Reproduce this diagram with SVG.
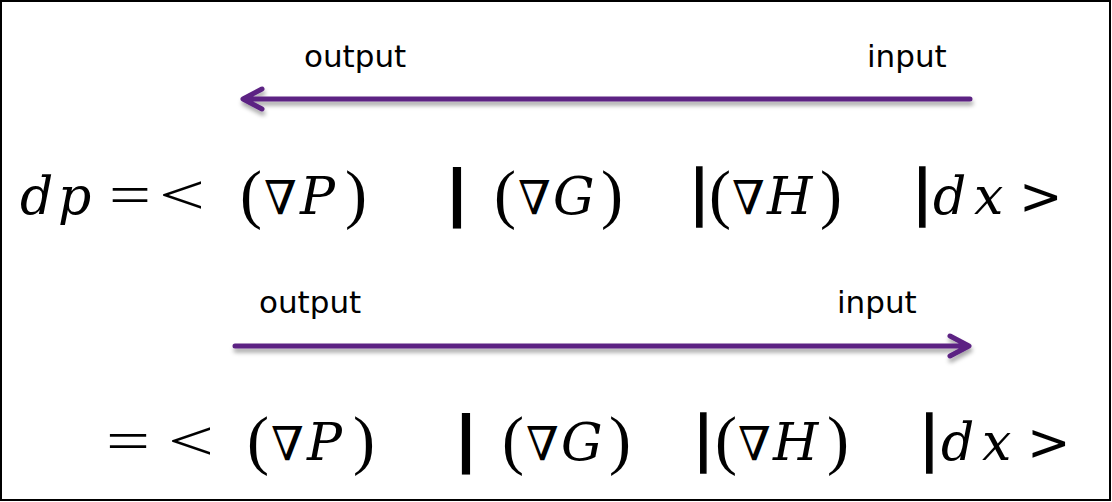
<svg xmlns="http://www.w3.org/2000/svg" width="1112" height="502" viewBox="0 0 1112 502">
  <defs>
    <filter id="shadow" x="-5%" y="-100%" width="110%" height="400%">
      <feDropShadow dx="1" dy="4" stdDeviation="2" flood-color="#000" flood-opacity="0.35"/>
    </filter>
  </defs>
  <style>
    .lbl { font-family: "DejaVu Sans", Verdana, sans-serif; font-size: 31px; fill: #000; }
    .it { font-family: "DejaVu Serif", "Liberation Serif", serif; font-style: italic; font-size: 52px; fill: #000; }
    .op { font-family: "Liberation Serif", "DejaVu Serif", serif; font-size: 57px; fill: #000; }
    .par { font-family: "Liberation Serif", "DejaVu Serif", serif; font-size: 66px; fill: #000; }
    .nab { font-family: "DejaVu Serif", serif; font-size: 47px; fill: #000; }
    .bar { font-family: "Liberation Sans", Arial, sans-serif; font-size: 64px; fill: #000; stroke: #000; stroke-width: 1.4px; }
    .bar.heavy { font-weight: bold; stroke: none; }
    .gt { font-family: "DejaVu Sans", sans-serif; font-size: 52px; fill: #000; }
    .arrow { fill: none; stroke: #5c2483; stroke-width: 5; stroke-linecap: round; stroke-linejoin: round; filter: url(#shadow); }
  </style>

  <!-- frame -->
  <rect x="1" y="1" width="1109" height="499" fill="#fff" stroke="#000" stroke-width="2"/>

  <!-- direction arrows -->
  <g id="connectors">
    <g id="arrow-top">
      <path class="arrow" d="M970 99 H244 M262 89 L243 99 L262 109"/>
    </g>
    <g id="arrow-bottom">
      <path class="arrow" d="M235 346 H968 M950 336 L969 346 L950 356"/>
    </g>
  </g>

  <!-- arrow labels -->
  <g id="labels-top">
    <text class="lbl" x="304" y="67">output</text>
    <text class="lbl" x="867" y="67">input</text>
  </g>
  <g id="labels-bottom">
    <text class="lbl" x="259" y="313">output</text>
    <text class="lbl" x="837" y="313">input</text>
  </g>

  <!-- first expression -->
  <g id="expr-1">
    <text class="it" x="20" y="214">d</text>
    <text class="it" x="58" y="214">p</text>
    <text class="op" x="109" y="214" textLength="42" lengthAdjust="spacingAndGlyphs">=</text>
    <text class="op" x="159" y="214" textLength="46" lengthAdjust="spacingAndGlyphs">&lt;</text>
    <text class="par" x="240" y="216">(</text>
    <text class="nab" x="264" y="214">∇</text>
    <text class="it" x="300" y="214">P</text>
    <text class="par" x="345" y="216">)</text>
    <text class="bar heavy" x="448" y="214">|</text>
    <text class="par" x="494" y="216">(</text>
    <text class="nab" x="518" y="214">∇</text>
    <text class="it" x="553" y="214">G</text>
    <text class="par" x="601" y="216">)</text>
    <text class="bar" x="691" y="214">|</text>
    <text class="par" x="709" y="216">(</text>
    <text class="nab" x="732" y="214">∇</text>
    <text class="it" x="767" y="214">H</text>
    <text class="par" x="820" y="216">)</text>
    <text class="bar" x="914" y="214">|</text>
    <text class="it" x="933" y="214">d</text>
    <text class="it" x="974" y="214">x</text>
    <text class="gt" x="1019" y="214">&gt;</text>
  </g>

  <!-- second expression -->
  <g id="expr-2">
    <text class="op" x="106" y="460" textLength="44" lengthAdjust="spacingAndGlyphs">=</text>
    <text class="op" x="168" y="460" textLength="46" lengthAdjust="spacingAndGlyphs">&lt;</text>
    <text class="par" x="247" y="462">(</text>
    <text class="nab" x="271" y="460">∇</text>
    <text class="it" x="307" y="460">P</text>
    <text class="par" x="353" y="462">)</text>
    <text class="bar heavy" x="457" y="460">|</text>
    <text class="par" x="502" y="462">(</text>
    <text class="nab" x="526" y="460">∇</text>
    <text class="it" x="561" y="460">G</text>
    <text class="par" x="609" y="462">)</text>
    <text class="bar" x="695" y="460">|</text>
    <text class="par" x="715" y="462">(</text>
    <text class="nab" x="738" y="460">∇</text>
    <text class="it" x="773" y="460">H</text>
    <text class="par" x="827" y="462">)</text>
    <text class="bar" x="921" y="460">|</text>
    <text class="it" x="941" y="460">d</text>
    <text class="it" x="982" y="460">x</text>
    <text class="gt" x="1027" y="460">&gt;</text>
  </g>
</svg>
